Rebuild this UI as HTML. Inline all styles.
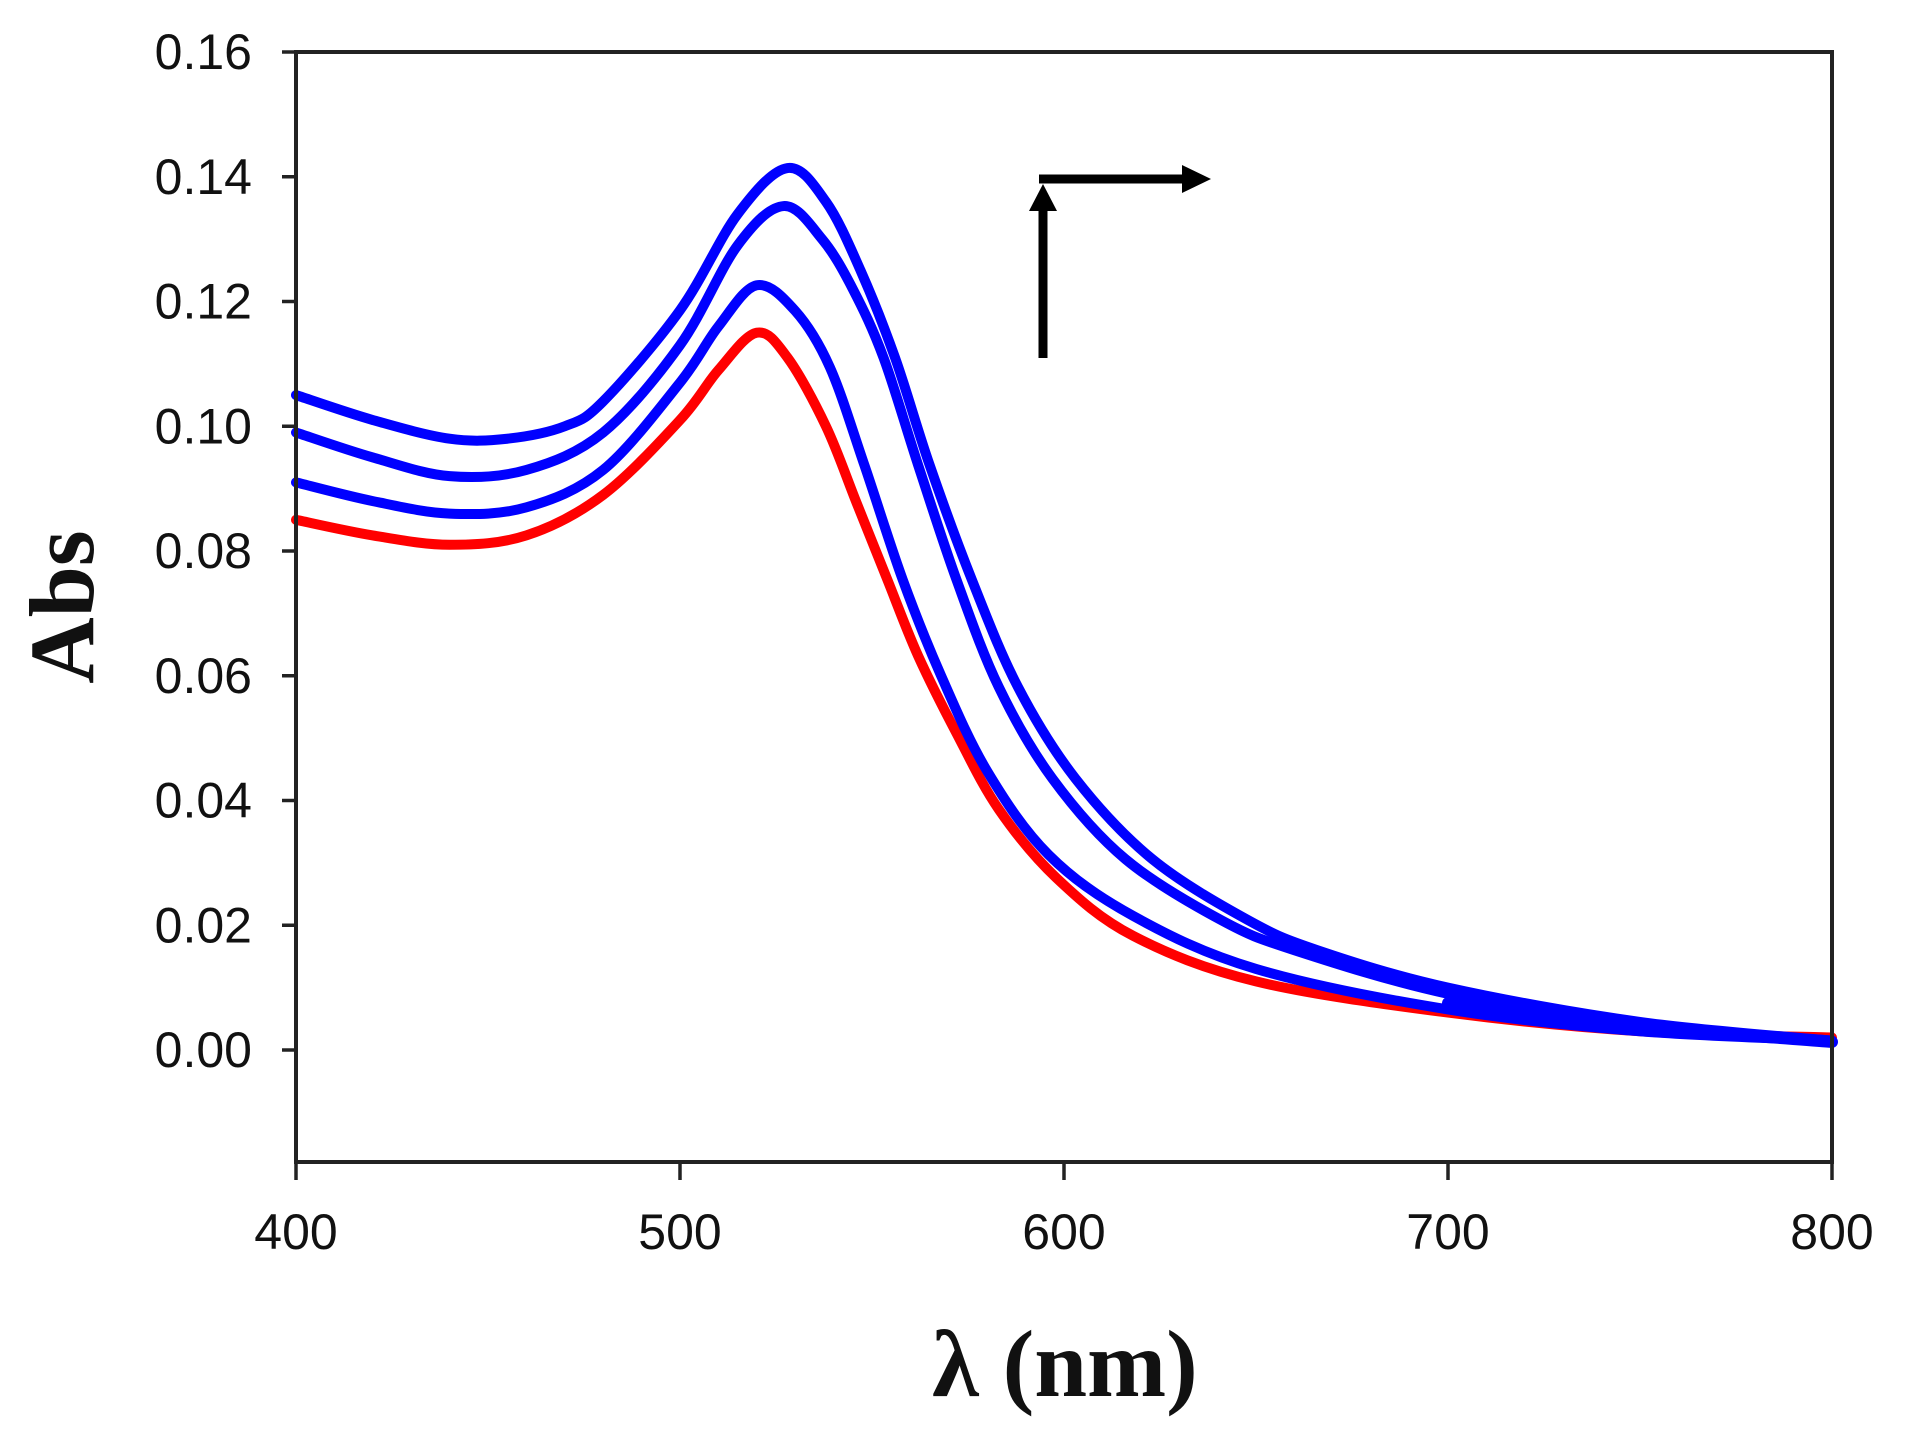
<!DOCTYPE html>
<html><head><meta charset="utf-8"><style>
html,body{margin:0;padding:0;background:#fff;}
svg{display:block;}
</style></head><body>
<svg id="s" width="1906" height="1441" viewBox="0 0 1906 1441" xmlns="http://www.w3.org/2000/svg">
<g id="curves" fill="none" stroke-width="10" stroke-linejoin="round" stroke-linecap="round"></g>
<g stroke="#222" stroke-width="4" fill="none">
<rect x="296" y="52" width="1536" height="1110"/>
</g>
<g stroke="#222" stroke-width="3.5" id="ticks"></g>
<g font-family="Liberation Sans, Arial, sans-serif" font-size="50" fill="#111" id="labels"></g>
<text x="1065" y="1396" text-anchor="middle" font-family="Liberation Serif, serif" font-weight="bold" font-size="95" fill="#111">λ (nm)</text>
<text transform="translate(93,607) rotate(-90)" text-anchor="middle" font-family="Liberation Serif, serif" font-weight="bold" font-size="92" fill="#111">Abs</text>
<g fill="#000" stroke="#000">
<line x1="1043" y1="358" x2="1043" y2="205" stroke-width="9"/>
<polygon points="1043,184 1029,211 1057,211" stroke="none"/>
<line x1="1039" y1="179" x2="1186" y2="179" stroke-width="9"/>
<polygon points="1211,179 1182,165 1182,193" stroke="none"/>
</g>
</svg>
<script>
var X=function(l){return 296+(l-400)*3.84;};
var Y=function(a){return 1050-a*6237.5;};
var curves=[
 ["#ff0000",10,[[400,.085],[420,.0825],[440,.081],[460,.0825],[480,.089],[500,.101],[510,.109],[520,.1150],[528,.111],[538,.100],[546,.0877],[554,.0754],[562,.0632],[572,.0508],[583,.0386],[598,.0276],[618,.0183],[650,.011],[700,.006],[750,.003],[800,.002]]],
 ["#0000ff",10,[[400,.091],[420,.088],[440,.086],[460,.087],[480,.093],[500,.107],[510,.116],[520,.1226],[530,.1185],[539,.1095],[548,.0938],[558,.0754],[568,.060],[580,.0447],[596,.0313],[618,.0215],[650,.013],[700,.0065],[750,.003],[800,.0015]]],
 ["#0000ff",10,[[400,.099],[420,.095],[440,.092],[460,.093],[480,.099],[500,.113],[515,.129],[527,.1353],[537,.130],[545,.122],[553,.111],[562,.0938],[572,.0754],[583,.0582],[597,.0435],[616,.0306],[641,.0208],[660,.016],[700,.009],[750,.004],[800,.0015]]],
 ["#0000ff",10,[[400,.105],[420,.101],[440,.098],[455,.098],[470,.100],[480,.104],[500,.1186],[515,.134],[528,.1414],[538,.136],[547,.125],[556,.111],[565,.0938],[576,.0754],[588,.0582],[603,.0435],[623,.0306],[648,.0208],[666,.016],[700,.010],[750,.0045],[800,.0015]]],
 ["#0000ff",12,[[700,.0075],[720,.0058],[750,.0037],[800,.0013]]]
];
var g=document.getElementById('curves'),ns="http://www.w3.org/2000/svg";
curves.forEach(function(c){
 var p=c[2].map(function(q){return [X(q[0]),Y(q[1])];});
 var d="M"+p[0][0]+","+p[0][1];
 for(var i=0;i<p.length-1;i++){
  var p0=p[i-1]||p[i],p1=p[i],p2=p[i+1],p3=p[i+2]||p2;
  d+=" C"+(p1[0]+(p2[0]-p0[0])/6)+","+(p1[1]+(p2[1]-p0[1])/6)+" "+(p2[0]-(p3[0]-p1[0])/6)+","+(p2[1]-(p3[1]-p1[1])/6)+" "+p2[0]+","+p2[1];
 }
 var e=document.createElementNS(ns,'path');e.setAttribute('d',d);e.setAttribute('stroke',c[0]);e.setAttribute('stroke-width',c[1]);g.appendChild(e);
});
var t=document.getElementById('ticks'),lb=document.getElementById('labels');
for(var k=0;k<=8;k++){
 var y=1050-k*124.75;if(k==8)y=52;
 var l=document.createElementNS(ns,'line');l.setAttribute('x1',282);l.setAttribute('x2',296);l.setAttribute('y1',y);l.setAttribute('y2',y);t.appendChild(l);
 var tx=document.createElementNS(ns,'text');tx.setAttribute('x',252);tx.setAttribute('y',y+17);tx.setAttribute('text-anchor','end');tx.textContent=(k*0.02).toFixed(2);lb.appendChild(tx);
}
for(var k=0;k<=4;k++){
 var x=296+k*384;
 var l=document.createElementNS(ns,'line');l.setAttribute('x1',x);l.setAttribute('x2',x);l.setAttribute('y1',1162);l.setAttribute('y2',1180);t.appendChild(l);
 var tx=document.createElementNS(ns,'text');tx.setAttribute('x',x);tx.setAttribute('y',1249);tx.setAttribute('text-anchor','middle');tx.textContent=400+k*100;lb.appendChild(tx);
}
</script>
</body></html>
